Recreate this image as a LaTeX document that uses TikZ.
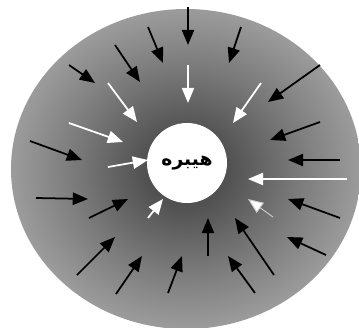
\documentclass[tikz,border=0pt]{standalone}
\usepackage{fontspec}
\usetikzlibrary{arrows.meta}
\newfontfamily\arabicfont[Script=Arabic]{DejaVu Sans}
\TeXXeTstate=1

% grey field, darkest next to the core
\pgfdeclareradialshading{fieldshade}{\pgfpoint{0bp}{0bp}}{%
  color(0bp)=(black!72); color(6bp)=(black!68); color(16bp)=(black!52);
  color(25bp)=(black!39); color(50bp)=(black!39)}

\tikzset{
  outarrow/.style={line width=1.5pt, black, -{Triangle[length=13pt,width=10.5pt]}},
  inarrow/.style={line width=1.5pt, white, -{Triangle[length=13pt,width=10.5pt]}},
  faintarrow/.style={line width=0.8pt, black!20, -{Triangle[length=13pt,width=10.5pt,fill=white]}},
  corenode/.style={circle, fill=white, minimum size=2.4cm, inner sep=0pt}
}

\begin{document}
\begin{tikzpicture}[x=0.03cm, y=-0.03cm]
    \useasboundingbox (0,0) rectangle (359,327);

    % Field
    \begin{scope}
      \clip (0,0) rectangle (359,327);
      \shade[shading=fieldshade] (186,169) ellipse [x radius=5.25cm, y radius=4.8cm];
    \end{scope}

    % Core
    \node[corenode] (core) at (187,163)
      {\arabicfont\bfseries\fontsize{16}{18}\selectfont\beginR هیبره\endR};

    % Outer arrows
    \foreach \tx/\ty/\hx/\hy in {188/7/188/45, 148/27/163/63, 241/27/229/63,
        115/45/140/82, 69/65/95/83, 320/65/268/102, 320/122/270/140,
        30/141/82/160, 340/160/288/160, 36/198/88/199, 89/218/128/199,
        340/218/288/199, 77/275/115/237, 326/255/287/237, 116/294/142/256,
        168/293/182/256, 208/256/208/218, 255/293/228/256, 274/275/235/218}
      \draw[outarrow] (\tx,\ty) -- (\hx,\hy);

    % Inner arrows
    \foreach \tx/\ty/\hx/\hy in {188/65/188/103, 108/83/137/122, 261/83/233/123,
        69/123/123/142, 108/167/148/160, 347/179/248/179, 148/218/163/199}
      \draw[inarrow] (\tx,\ty) -- (\hx,\hy);
    \draw[faintarrow] (273,217) -- (248,199);
\end{tikzpicture}
\end{document}
